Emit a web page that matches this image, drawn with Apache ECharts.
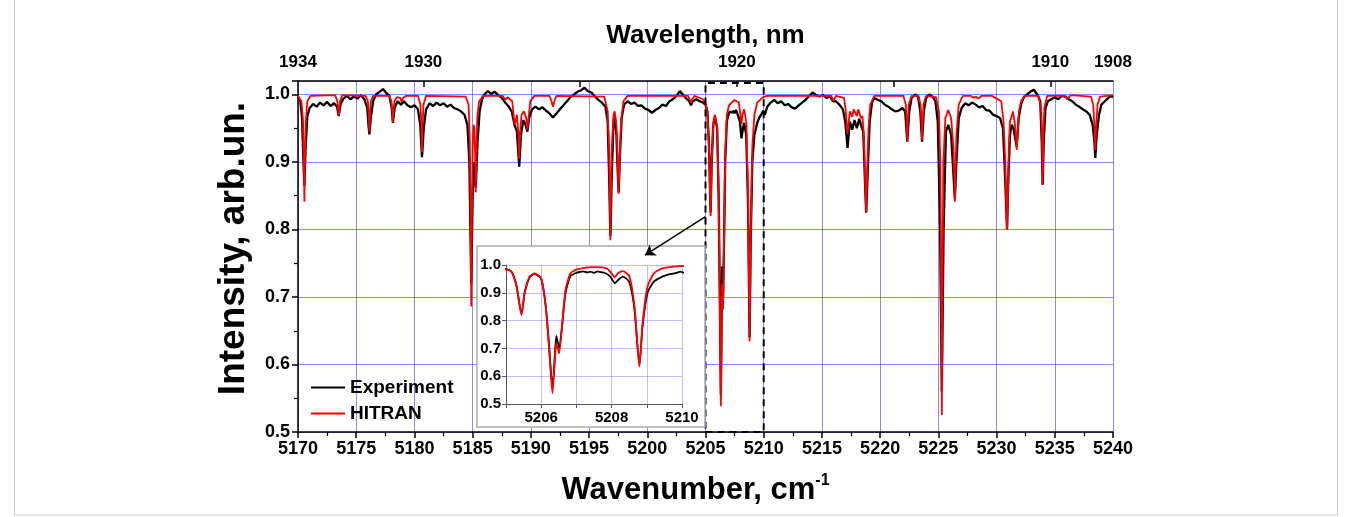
<!DOCTYPE html>
<html><head><meta charset="utf-8">
<script src="https://cdn.jsdelivr.net/npm/echarts@6/dist/echarts.min.js"></script>
<style>html,body{margin:0;padding:0;background:#fff}#c{width:1352px;height:517px}</style>
</head><body><div id="c"></div>
<script>
// Top axis (wavelength, nm) ticks and labels
const wavelengthLabels = [1934, 1930, 1920, 1910, 1908];
const wavelengthTicks = [1930, 1925, 1920, 1915, 1910];

// Experiment spectrum [wavenumber cm-1, intensity]
const experiment = [
[5170.0,0.996],[5170.2,0.99],[5170.35,0.965],[5170.45,0.91],[5170.55,0.865],[5170.65,0.92],[5170.8,0.968],[5171.0,0.98],[5171.3,0.986],[5171.6,0.982],[5171.9,0.988],[5172.2,0.984],[5172.5,0.989],[5172.8,0.983],[5173.1,0.987],[5173.35,0.982],[5173.5,0.968],[5173.65,0.985],[5173.9,0.994],[5174.2,0.998],[5174.5,0.993],[5174.8,0.997],[5175.1,0.994],[5175.4,0.999],[5175.7,0.993],[5175.95,0.98],[5176.05,0.955],[5176.13,0.941],[5176.25,0.965],[5176.45,0.99],[5176.7,1.0],[5177.0,1.004],[5177.3,1.008],[5177.6,1.002],[5177.85,0.998],[5178.05,0.98],[5178.15,0.958],[5178.3,0.98],[5178.55,0.99],[5178.85,0.985],[5179.1,0.99],[5179.4,0.984],[5179.7,0.981],[5180.0,0.984],[5180.3,0.978],[5180.5,0.955],[5180.65,0.907],[5180.8,0.95],[5181.0,0.978],
[5181.3,0.987],[5181.6,0.983],[5181.9,0.988],[5182.2,0.984],[5182.5,0.987],[5182.8,0.982],[5183.1,0.985],[5183.4,0.98],[5183.7,0.978],[5184.0,0.975],[5184.3,0.97],[5184.55,0.955],[5184.72,0.9],[5184.88,0.72],[5185.0,0.85],[5185.12,0.9],[5185.27,0.862],[5185.42,0.93],[5185.6,0.975],[5185.8,0.993],[5186.0,1.0],[5186.3,1.005],[5186.6,1.001],[5186.9,1.004],[5187.2,0.999],[5187.5,0.995],[5187.8,0.988],[5188.1,0.982],[5188.35,0.975],[5188.6,0.955],[5188.8,0.945],[5189.0,0.893],[5189.15,0.94],[5189.35,0.962],[5189.55,0.955],[5189.7,0.945],[5189.85,0.965],[5190.1,0.978],[5190.4,0.982],[5190.7,0.978],[5191.0,0.981],[5191.3,0.976],[5191.6,0.972],[5191.9,0.966],[5192.2,0.972],[5192.5,0.978],[5192.8,0.984],[5193.1,0.99],[5193.4,0.996],[5193.7,1.0],[5194.0,1.004],[5194.3,1.006],[5194.6,1.01],[5194.9,1.005],[5195.2,1.003],[5195.5,0.997],[5195.8,0.992],[5196.1,0.988],[5196.4,0.982],[5196.6,0.96],[5196.72,0.88],[5196.83,0.79],[5196.95,0.88],[5197.1,0.96],[5197.2,0.97],[5197.35,0.94],[5197.45,0.89],[5197.54,0.855],[5197.65,0.91],[5197.8,0.965],[5198.0,0.985],[5198.3,0.99],[5198.6,0.986],[5198.9,0.988],[5199.2,0.983],[5199.5,0.984],[5199.8,0.979],[5200.1,0.977],[5200.4,0.973],[5200.7,0.977],[5201.0,0.98],[5201.3,0.985],[5201.6,0.983],[5201.9,0.99],[5202.2,0.993],[5202.5,0.998],[5202.8,1.005],[5203.1,0.999],[5203.4,0.993],[5203.6,0.99],[5203.75,0.984],[5203.9,0.99],[5204.2,0.993],[5204.5,0.99],[5204.8,0.988],
[5205.02,0.984],[5205.16,0.975],[5205.3,0.925],[5205.44,0.825],[5205.53,0.9],[5205.67,0.955],[5205.81,0.968],[5206.0,0.95],[5206.13,0.85],[5206.23,0.70],[5206.32,0.555],[5206.39,0.68],[5206.43,0.745],[5206.51,0.70],[5206.6,0.79],[5206.69,0.9],[5206.83,0.96],[5207.0,0.972],[5207.1,0.975],[5207.2,0.977],[5207.3,0.973],[5207.4,0.976],[5207.5,0.972],[5207.6,0.977],[5207.7,0.974],[5207.8,0.972],[5207.95,0.96],[5208.09,0.935],[5208.2,0.948],[5208.32,0.958],[5208.5,0.94],[5208.65,0.84],[5208.79,0.64],[5208.88,0.78],[5209.02,0.9],[5209.2,0.94],[5209.44,0.958],[5209.6,0.965],[5209.7,0.968],[5209.85,0.972],[5209.95,0.976],
[5210.1,0.97],[5210.3,0.982],[5210.6,0.988],[5210.9,0.992],[5211.2,0.987],[5211.5,0.99],[5211.8,0.984],[5212.1,0.986],[5212.4,0.981],[5212.7,0.979],[5213.0,0.984],[5213.3,0.988],[5213.6,0.992],[5213.9,0.998],[5214.2,1.003],[5214.5,0.999],[5214.8,0.997],[5215.1,0.999],[5215.4,0.995],[5215.7,0.997],[5215.95,0.99],[5216.2,0.99],[5216.5,0.985],[5216.8,0.978],[5217.0,0.96],[5217.2,0.921],[5217.4,0.96],[5217.6,0.948],[5217.8,0.962],[5218.0,0.95],[5218.2,0.964],[5218.35,0.955],[5218.55,0.945],[5218.7,0.87],[5218.8,0.825],[5218.92,0.88],[5219.1,0.96],[5219.3,0.988],[5219.5,0.995],[5219.8,0.992],[5220.1,0.99],[5220.4,0.985],[5220.7,0.982],[5221.0,0.978],[5221.3,0.975],[5221.6,0.976],[5221.9,0.98],[5222.15,0.975],[5222.33,0.93],[5222.5,0.975],[5222.7,0.995],[5223.0,1.0],[5223.25,0.997],[5223.45,0.975],[5223.6,0.93],[5223.75,0.975],[5223.95,0.995],[5224.2,1.0],[5224.5,0.997],[5224.75,0.99],[5224.95,0.96],[5225.15,0.8],[5225.3,0.56],[5225.45,0.8],[5225.65,0.945],[5225.85,0.955],[5226.1,0.94],[5226.3,0.88],[5226.42,0.845],[5226.55,0.9],[5226.75,0.965],[5227.0,0.98],[5227.3,0.987],[5227.6,0.984],[5227.9,0.988],[5228.2,0.985],[5228.5,0.981],[5228.8,0.983],[5229.1,0.977],[5229.4,0.976],[5229.7,0.97],[5230.0,0.968],[5230.3,0.965],[5230.55,0.95],[5230.75,0.87],[5230.9,0.80],[5231.02,0.88],[5231.15,0.94],[5231.3,0.955],[5231.45,0.95],[5231.6,0.935],[5231.73,0.923],[5231.9,0.965],[5232.1,0.985],[5232.35,0.996],[5232.6,1.0],[5232.9,1.004],[5233.2,1.007],[5233.5,1.0],[5233.75,0.99],[5233.88,0.93],[5233.96,0.866],[5234.05,0.93],[5234.2,0.98],[5234.4,0.99],[5234.7,0.993],[5235.0,0.996],[5235.3,0.993],[5235.6,0.998],[5235.9,0.997],[5236.2,0.993],[5236.5,0.99],[5236.8,0.985],[5237.1,0.982],[5237.4,0.978],[5237.7,0.975],[5238.0,0.97],[5238.25,0.955],[5238.4,0.93],[5238.48,0.906],[5238.6,0.94],[5238.8,0.97],[5239.0,0.985],[5239.3,0.99],[5239.6,0.995],[5239.8,0.998],[5240.0,0.996]
];

// HITRAN simulated spectrum [wavenumber cm-1, intensity]
const hitran = [
[5170.0,0.998],[5170.3,0.99],[5170.43,0.96],[5170.5,0.905],[5170.55,0.841],[5170.6,0.905],[5170.67,0.96],[5170.8,0.99],[5171.1,0.998],
[5173.2,0.999],[5173.38,0.99],[5173.5,0.969],[5173.62,0.99],[5173.8,0.999],
[5175.8,0.998],[5176.0,0.99],[5176.08,0.97],[5176.13,0.945],[5176.18,0.97],[5176.26,0.99],[5176.45,0.998],
[5177.85,0.998],[5178.02,0.99],[5178.1,0.975],[5178.15,0.959],[5178.2,0.975],[5178.28,0.99],[5178.5,0.996],[5178.78,0.995],[5178.9,0.989],[5179.02,0.995],[5179.3,0.998],
[5180.3,0.998],[5180.52,0.985],[5180.6,0.955],[5180.65,0.915],[5180.7,0.955],[5180.78,0.985],[5181.0,0.998],
[5184.4,0.997],[5184.65,0.985],[5184.76,0.93],[5184.83,0.81],[5184.88,0.686],[5184.93,0.81],[5185.0,0.92],[5185.08,0.955],[5185.15,0.95],[5185.22,0.91],[5185.27,0.855],[5185.32,0.91],[5185.4,0.965],[5185.55,0.99],[5185.9,0.998],
[5187.6,0.998],[5187.8,0.992],[5188.0,0.996],[5188.4,0.99],[5188.52,0.97],[5188.6,0.955],[5188.68,0.96],[5188.8,0.97],[5188.92,0.945],[5189.0,0.905],[5189.08,0.945],[5189.2,0.97],[5189.4,0.975],[5189.6,0.965],[5189.7,0.948],[5189.8,0.965],[5189.95,0.99],[5190.3,0.998],
[5191.6,0.998],[5191.78,0.99],[5191.9,0.982],[5192.02,0.99],[5192.2,0.998],
[5196.3,0.997],[5196.6,0.975],[5196.72,0.92],[5196.79,0.84],[5196.83,0.784],[5196.87,0.84],[5196.95,0.92],[5197.1,0.97],[5197.2,0.975],[5197.35,0.955],[5197.46,0.9],[5197.54,0.853],[5197.62,0.9],[5197.75,0.96],[5197.95,0.99],[5198.3,0.998],
[5203.5,0.998],[5203.63,0.993],[5203.75,0.988],[5203.87,0.993],[5204.05,0.998],
[5204.8,0.993],[5205.02,0.984],[5205.16,0.976],[5205.3,0.922],[5205.44,0.82],[5205.53,0.90],[5205.67,0.958],[5205.81,0.97],[5206.0,0.952],[5206.13,0.85],[5206.23,0.69],[5206.32,0.538],[5206.39,0.66],[5206.43,0.72],[5206.51,0.682],[5206.6,0.79],[5206.69,0.91],[5206.83,0.97],[5207.02,0.984],[5207.48,0.992],[5207.86,0.988],[5208.0,0.97],[5208.09,0.956],[5208.18,0.97],[5208.32,0.978],[5208.51,0.958],[5208.65,0.85],[5208.79,0.634],[5208.88,0.79],[5209.02,0.922],[5209.2,0.97],[5209.44,0.988],[5209.95,0.996],[5210.3,0.998],
[5215.8,0.998],[5216.0,0.99],[5216.2,0.998],
[5216.9,0.995],[5217.05,0.975],[5217.15,0.95],[5217.2,0.942],[5217.27,0.955],[5217.4,0.975],[5217.5,0.975],[5217.6,0.967],[5217.72,0.978],[5217.85,0.978],[5218.0,0.968],[5218.12,0.978],[5218.22,0.976],[5218.35,0.965],[5218.48,0.968],[5218.6,0.94],[5218.7,0.88],[5218.8,0.825],[5218.88,0.88],[5219.0,0.95],[5219.15,0.985],[5219.5,0.998],
[5222.0,0.998],[5222.2,0.985],[5222.28,0.96],[5222.33,0.93],[5222.38,0.96],[5222.46,0.985],[5222.7,0.998],
[5223.3,0.998],[5223.47,0.985],[5223.55,0.96],[5223.6,0.933],[5223.65,0.96],[5223.73,0.985],[5223.95,0.998],
[5224.8,0.996],[5225.05,0.975],[5225.17,0.9],[5225.25,0.7],[5225.3,0.525],[5225.35,0.7],[5225.43,0.9],[5225.6,0.965],[5225.85,0.977],[5226.1,0.965],[5226.3,0.92],[5226.37,0.88],[5226.42,0.841],[5226.47,0.88],[5226.55,0.94],[5226.75,0.985],[5227.1,0.998],
[5227.8,0.998],[5228.0,0.995],[5228.2,0.997],[5228.45,0.994],[5228.7,0.998],[5229.6,0.998],
[5230.4,0.99],[5230.6,0.96],[5230.75,0.9],[5230.85,0.83],[5230.9,0.80],[5230.95,0.83],[5231.05,0.92],[5231.15,0.96],[5231.25,0.965],[5231.4,0.975],[5231.55,0.96],[5231.66,0.94],[5231.73,0.918],[5231.8,0.94],[5231.92,0.975],[5232.1,0.99],[5232.4,0.998],
[5233.6,0.998],[5233.82,0.98],[5233.9,0.94],[5233.96,0.866],[5234.02,0.94],[5234.1,0.98],[5234.35,0.998],
[5235.9,0.998],[5236.05,0.993],[5236.1,0.991],[5236.2,0.996],[5236.4,0.999],
[5238.1,0.997],[5238.3,0.985],[5238.42,0.95],[5238.48,0.918],[5238.55,0.95],[5238.67,0.985],[5238.9,0.997],[5240.0,0.999]
];

// Zoomed region and arrow (data coordinates)
const zoomBox = [[5205, 0.5], [5210, 1.017]];
const arrowLine = [[5205, 0.819], [5199.8, 0.762]];

const FONT = 'Liberation Sans, Arial, sans-serif';
const gridBlue = 'rgba(60,60,255,0.6)';
const insetBlue = 'rgba(110,110,255,0.45)';

const chart = echarts.init(document.getElementById('c'), null, {renderer: 'canvas'});
chart.setOption({
  animation: false,
  backgroundColor: '#fff',
  textStyle: {fontFamily: FONT},
  grid: [
    {left: 298, right: 239, top: 81, bottom: 85},
    {left: 506, top: 265, width: 176, height: 139, z: 12}
  ],
  legend: {
    left: 306, top: 373, orient: 'vertical', itemWidth: 34, itemHeight: 2, itemGap: 7,
    icon: 'rect', data: ['Experiment', 'HITRAN'],
    textStyle: {fontSize: 19, fontWeight: 'bold', color: '#000', fontFamily: FONT}
  },
  graphic: [
    {type: 'rect', z: 0, silent: true, shape: {x: 14.5, y: -1, width: 1323, height: 516},
     style: {fill: 'none', stroke: '#c8c8c8', lineWidth: 1}},
    {type: 'rect', z: 10, shape: {x: 477, y: 246, width: 228, height: 181},
     style: {fill: '#fff', stroke: '#aaa', lineWidth: 1.5}}
  ],
  xAxis: [
    {type: 'value', gridIndex: 0, position: 'bottom', min: 5170, max: 5240, interval: 5,
     axisLine: {onZero: false, lineStyle: {color: '#000', width: 1.5}},
     axisTick: {length: 6, lineStyle: {color: '#000', width: 1.5}},
     minorTick: {show: true, splitNumber: 2, length: 4, lineStyle: {color: '#000', width: 1.2}},
     axisLabel: {color: '#000', fontSize: 18, fontWeight: 'bold', margin: 8, fontFamily: FONT,
       formatter: v => String(v)},
     splitLine: {show: true, lineStyle: {color: gridBlue, width: 1}},
     name: '{a|Wavenumber, cm}{b|-1}', nameLocation: 'middle', nameGap: 41,
     nameTextStyle: {padding: [0, 20, 0, 0], rich: {
       a: {fontSize: 31, fontWeight: 'bold', color: '#000', fontFamily: FONT, lineHeight: 34},
       b: {fontSize: 16, fontWeight: 'bold', color: '#000', fontFamily: FONT, verticalAlign: 'top', lineHeight: 16}
     }}},
    {type: 'value', gridIndex: 0, position: 'top', min: 1908, max: 1934, inverse: true,
     axisLine: {onZero: false, lineStyle: {color: '#000', width: 1.5}},
     axisTick: {inside: true, length: 6, customValues: wavelengthTicks, lineStyle: {color: '#000', width: 1.5}},
     axisLabel: {customValues: wavelengthLabels, color: '#000', fontSize: 17, fontWeight: 'bold', margin: 10, fontFamily: FONT,
       formatter: v => String(v)},
     splitLine: {show: false},
     name: 'Wavelength, nm', nameLocation: 'middle', nameGap: 32,
     nameTextStyle: {fontSize: 26, fontWeight: 'bold', color: '#000', fontFamily: FONT}},
    {type: 'value', gridIndex: 1, min: 5205, max: 5210, interval: 1, z: 12,
     axisLine: {onZero: false, lineStyle: {color: '#555', width: 1}},
     axisTick: {show: true, length: 4, lineStyle: {color: '#555'}},
     axisLabel: {color: '#000', fontSize: 15, fontWeight: 'bold', margin: 6, fontFamily: FONT,
       formatter: v => (v % 2 === 0 ? String(v) : '')},
     splitLine: {show: true, lineStyle: {color: insetBlue, width: 1}}}
  ],
  yAxis: [
    {type: 'value', gridIndex: 0, min: 0.5, max: 1.02, interval: 0.1,
     axisLine: {show: true, onZero: false, lineStyle: {color: '#000', width: 1.5}},
     axisTick: {show: true, length: 6, lineStyle: {color: '#000', width: 1.5}},
     minorTick: {show: true, splitNumber: 2, length: 4, lineStyle: {color: '#000', width: 1.2}},
     axisLabel: {color: '#000', fontSize: 18, fontWeight: 'bold', margin: 8, showMaxLabel: false, fontFamily: FONT,
       formatter: v => v.toFixed(1)},
     splitLine: {show: true, lineStyle: {color: gridBlue, width: 1}},
     name: 'Intensity, arb.un.', nameLocation: 'middle', nameGap: 46, nameRotate: 90,
     nameTextStyle: {fontSize: 37, fontWeight: 'bold', color: '#000', fontFamily: FONT, padding: [0, 0, 0, 16]}},
    {type: 'value', gridIndex: 1, min: 0.5, max: 1.0, interval: 0.1, z: 12,
     axisLine: {show: true, onZero: false, lineStyle: {color: '#555', width: 1}},
     axisTick: {show: true, length: 4, lineStyle: {color: '#555'}},
     axisLabel: {color: '#000', fontSize: 15, fontWeight: 'bold', margin: 5, fontFamily: FONT,
       formatter: v => v.toFixed(1)},
     splitLine: {show: true, lineStyle: {color: insetBlue, width: 1}}}
  ],
  series: [
    {name: 'Experiment', type: 'line', xAxisIndex: 0, yAxisIndex: 0, data: experiment,
     showSymbol: false, symbol: 'none', lineStyle: {color: '#000', width: 2.3}, itemStyle: {color: '#000'}, z: 2},
    {name: 'HITRAN', type: 'line', xAxisIndex: 0, yAxisIndex: 0, data: hitran,
     showSymbol: false, symbol: 'none', lineStyle: {color: '#ff0000', width: 1.8}, itemStyle: {color: '#ff0000'}, z: 3,
     markArea: {silent: true, z: 4,
       itemStyle: {color: 'rgba(0,0,0,0)', borderColor: '#000', borderWidth: 2, borderType: [7, 5]},
       data: [[{coord: zoomBox[0]}, {coord: zoomBox[1]}]]}},
    {name: 'arrow', type: 'line', xAxisIndex: 0, yAxisIndex: 0, data: [], z: 30,
     markLine: {silent: true, z: 30, symbol: ['none', 'arrow'], symbolSize: 10,
       label: {show: false}, lineStyle: {color: '#000', width: 1.5, type: 'solid'},
       data: [[{coord: arrowLine[0]}, {coord: arrowLine[1]}]]}},
    {name: 'Experiment', type: 'line', xAxisIndex: 2, yAxisIndex: 1, data: experiment, clip: true,
     showSymbol: false, symbol: 'none', smooth: 0.2, lineStyle: {color: '#000', width: 1.8}, z: 20},
    {name: 'HITRAN', type: 'line', xAxisIndex: 2, yAxisIndex: 1, data: hitran, clip: true,
     showSymbol: false, symbol: 'none', smooth: 0.2, lineStyle: {color: '#ff0000', width: 1.8}, z: 21}
  ]
});
</script>
</body></html>
